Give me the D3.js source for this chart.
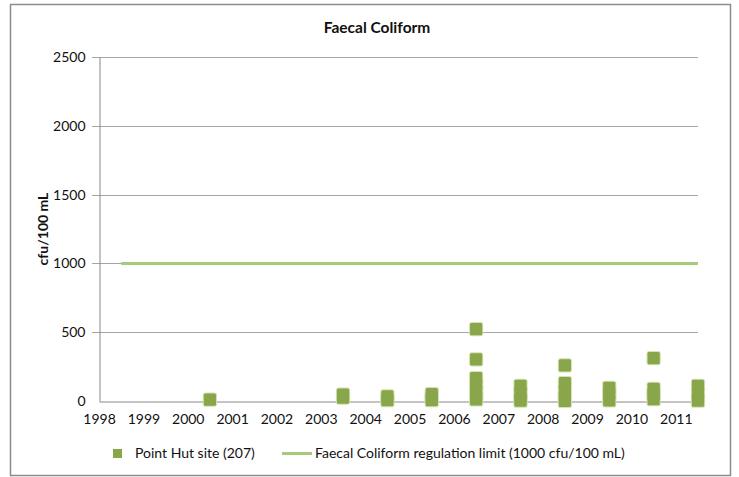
<!DOCTYPE html>
<html>
<head>
<meta charset="utf-8">
<script src="https://cdn.jsdelivr.net/npm/d3@7"></script>
<style>
  html, body { margin: 0; padding: 0; background: #fff; }
  svg { display: block; }
  text { font-family: Lato, "Open Sans", "Liberation Sans", sans-serif; fill: #111; }
</style>
</head>
<body>
<svg id="chart" width="739" height="477"></svg>
<script>
// ---- Data ----
const chartTitle = "Faecal Coliform";
const yAxisLabel = "cfu/100 mL";
const xTickYears = [1998, 1999, 2000, 2001, 2002, 2003, 2004, 2005, 2006, 2007, 2008, 2009, 2010, 2011];
const yTickValues = [0, 500, 1000, 1500, 2000, 2500];
const sampleYears  = [2000.5,
  2003.5, 2003.5,
  2004.5, 2004.5,
  2005.5, 2005.5, 2005.5,
  2006.5, 2006.5, 2006.5, 2006.5, 2006.5, 2006.5, 2006.5,
  2007.5, 2007.5, 2007.5, 2007.5,
  2008.5, 2008.5, 2008.5, 2008.5, 2008.5,
  2009.5, 2009.5, 2009.5,
  2010.5, 2010.5, 2010.5, 2010.5,
  2011.5, 2011.5, 2011.5, 2011.5];
const sampleValues = [10,
  47, 25,
  33, 6,
  50, 25, 6,
  523, 303, 167, 120, 75, 35, 11,
  110, 60, 20, 2,
  259, 130, 75, 30, 0,
  95, 50, 5,
  312, 89, 50, 13,
  110, 60, 20, 2];
const limitYears = [1998.5, 2011.5];
const limitValues = [1000, 1000];
const seriesNames = ["Point Hut site (207)", "Faecal Coliform regulation limit (1000 cfu/100 mL)"];

// ---- Layout ----
const svg = d3.select("#chart");
const plot = { left: 99, right: 698, top: 57, bottom: 401 };
const markerColor = "#8aa64a";
const limitColor = "#a9c97a";

// outer frame
svg.append("rect")
  .attr("x", 10.5).attr("y", 4.5).attr("width", 720).attr("height", 471)
  .attr("fill", "#fff").attr("stroke", "#8c8c8c").attr("stroke-width", 1.5);

const x = d3.scaleLinear().domain([1998, 2011.5]).range([plot.left, plot.right]);
const y = d3.scaleLinear().domain([0, 2500]).range([plot.bottom, plot.top]);

// gridlines
svg.append("g")
  .selectAll("line").data(yTickValues.filter(v => v > 0)).join("line")
  .attr("x1", plot.left - 7).attr("x2", plot.right)
  .attr("y1", d => Math.round(y(d)) + 0.5).attr("y2", d => Math.round(y(d)) + 0.5)
  .attr("stroke", "#a6a6a6").attr("stroke-width", 1);

// y axis
const yAxis = svg.append("g")
  .attr("transform", `translate(${plot.left + 0.5},0)`)
  .call(d3.axisLeft(y).tickValues(yTickValues).tickSize(0).tickPadding(14).tickFormat(d3.format("d")));
yAxis.select(".domain").attr("stroke", "#888");
yAxis.selectAll("text").attr("font-size", 14).attr("fill", "#111")
  .style("font-family", "Lato, sans-serif");

// x axis
const xAxis = svg.append("g")
  .attr("transform", `translate(0,${plot.bottom + 0.5})`)
  .call(d3.axisBottom(x).tickValues(xTickYears).tickSize(0).tickPadding(13).tickFormat(d3.format("d")));
xAxis.select(".domain").attr("stroke", "#888");
xAxis.selectAll("text").attr("font-size", 14).attr("fill", "#111")
  .style("font-family", "Lato, sans-serif");

// limit line
const limitData = limitYears.map((yr, i) => [yr, limitValues[i]]);
svg.append("path")
  .datum(limitData)
  .attr("d", d3.line().x(d => x(d[0])).y(d => y(d[1])))
  .attr("stroke", limitColor).attr("stroke-width", 3).attr("fill", "none");

// markers: light halo layer underneath, solid fill on top
const ms = 13;
const pts = sampleValues.map((v, i) => [sampleYears[i], v]);
svg.append("g")
  .selectAll("rect").data(pts).join("rect")
  .attr("x", d => x(d[0]) - ms / 2).attr("y", d => y(d[1]) - ms / 2)
  .attr("width", ms).attr("height", ms).attr("rx", 2)
  .attr("fill", "#c5d9a0").attr("stroke", "#d3e3b5").attr("stroke-width", 1.2);
svg.append("g")
  .selectAll("rect").data(pts).join("rect")
  .attr("x", d => x(d[0]) - ms / 2 + 0.4).attr("y", d => y(d[1]) - ms / 2 + 0.4)
  .attr("width", ms - 0.8).attr("height", ms - 0.8).attr("rx", 1.5)
  .attr("fill", markerColor);

// title
svg.append("text")
  .attr("x", 377).attr("y", 33).attr("text-anchor", "middle")
  .attr("font-size", 15.5).attr("font-weight", "bold")
  .text(chartTitle);

// y axis label
svg.append("text")
  .attr("transform", "translate(48,229) rotate(-90)")
  .attr("text-anchor", "middle").attr("font-size", 14).attr("font-weight", "bold")
  .text(yAxisLabel);

// legend
const legend = svg.append("g");
legend.append("rect").attr("x", 113).attr("y", 449).attr("width", 9).attr("height", 9)
  .attr("fill", markerColor);
legend.append("text").attr("x", 135).attr("y", 458).attr("font-size", 14).text(seriesNames[0]);
legend.append("line").attr("x1", 282).attr("x2", 312).attr("y1", 453.5).attr("y2", 453.5)
  .attr("stroke", limitColor).attr("stroke-width", 3);
legend.append("text").attr("x", 315).attr("y", 458).attr("font-size", 14).text(seriesNames[1]);
</script>
</body>
</html>
